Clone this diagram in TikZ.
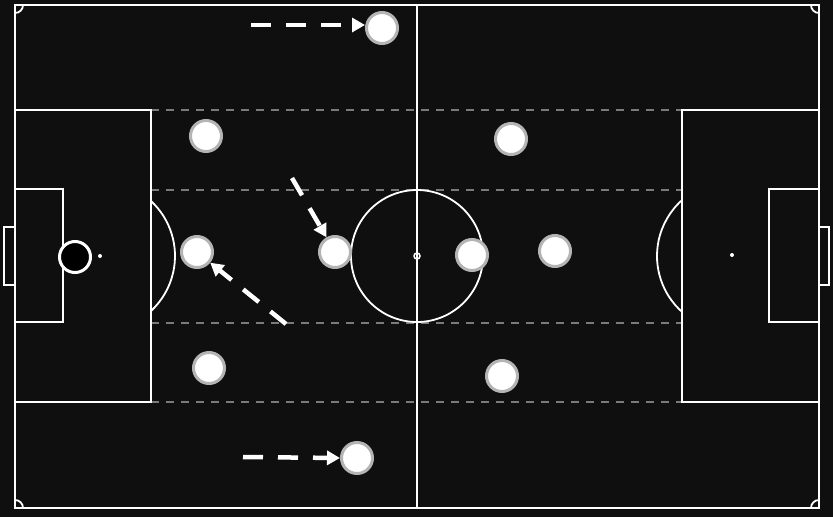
\documentclass[tikz,border=0pt]{standalone}
\usetikzlibrary{arrows.meta}
\definecolor{bg}{HTML}{0F0F0F}
\definecolor{ring}{HTML}{B4B4B4}
\definecolor{zone}{HTML}{7A7A7A}
\tikzset{
  pitchline/.style={draw=white,line width=1.8pt},
  zoneline/.style={draw=zone,line width=1.5pt,dash pattern=on 8pt off 7pt},
  player/.style={circle,fill=white,draw=ring,line width=3pt,minimum size=31pt,inner sep=0pt},
  keeper/.style={circle,fill=black,draw=white,line width=3pt,minimum size=31pt,inner sep=0pt},
  run/.style={draw=white,line width=4.5pt,dash pattern=on 20pt off 15pt,-{Triangle[length=13pt,width=14pt]}},
  spot/.style={circle,fill=white,inner sep=0pt,minimum size=4pt}
}
\begin{document}
\begin{tikzpicture}[x=1pt,y=-1pt]
\fill[bg] (0,0) rectangle (833,517);
\useasboundingbox (0,0) rectangle (833,517);
% zone lines
\draw[zoneline] (151,110) -- (682,110);
\draw[zoneline] (151,190) -- (682,190);
\draw[zoneline] (151,323) -- (682,323);
\draw[zoneline] (151,402) -- (682,402);
% pitch
\draw[pitchline] (15,5) rectangle (819,508);
\draw[pitchline] (417,5) -- (417,508);
\draw[pitchline] (417,256) circle[radius=66];
\draw[white,line width=1.5pt] (417,256) circle[radius=3];
\draw[pitchline] (15,110) rectangle (151,402);
\draw[pitchline] (15,189) rectangle (63,322);
\draw[pitchline] (4,227) rectangle (15,285);
\draw[pitchline] (682,110) rectangle (819,402);
\draw[pitchline] (769,189) rectangle (819,322);
\draw[pitchline] (819,227) rectangle (829,285);
\draw[pitchline] (100,256) ++(-47.2:75) arc[start angle=-47.2,end angle=47.2,radius=75];
\draw[pitchline] (732,256) ++(131.8:75) arc[start angle=131.8,end angle=228.2,radius=75];
\node[spot] (ls) at (100,256) {};
\node[spot] (rs) at (732,255) {};
\draw[pitchline] (15,13) arc[start angle=90,end angle=0,radius=8];
\draw[pitchline] (811,5) arc[start angle=180,end angle=90,radius=8];
\draw[pitchline] (15,500) arc[start angle=-90,end angle=0,radius=8];
\draw[pitchline] (811,508) arc[start angle=180,end angle=270,radius=8];
% players
\node[keeper] (gk) at (75,257) {};
\node[player] (p1) at (382,28) {};
\node[player] (p2) at (206,136) {};
\node[player] (p3) at (511,139) {};
\node[player] (p4) at (197,252) {};
\node[player] (p5) at (335,252) {};
\node[player] (p6) at (472,255) {};
\node[player] (p7) at (555,251) {};
\node[player] (p8) at (209,368) {};
\node[player] (p9) at (502,376) {};
\node[player] (p10) at (357,458) {};
% runs
\coordinate (a1) at (251,25);
\coordinate (b1) at (292,178);
\coordinate (c1) at (286,324);
\coordinate (d1) at (243,457);
\draw[run] (a1) -- (p1.west |- a1);
\draw[run] (b1) -- (p5);
\draw[run] (c1) -- (p4);
\draw[run] (d1) -- (p10.west);
\end{tikzpicture}
\end{document}
